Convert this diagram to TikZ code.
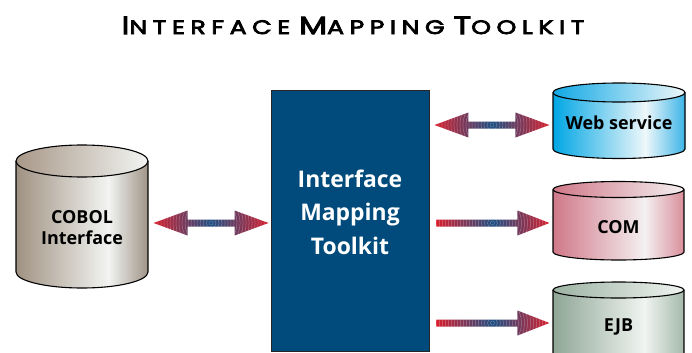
\documentclass[tikz,border=0pt]{standalone}
\usepackage{fontspec}
\setmainfont{Open Sans}
\newfontfamily\titlefont[LetterSpace=28.5,FakeStretch=1.3,FakeBold=4]{Poppins}
\usetikzlibrary{calc}
\definecolor{boxblue}{HTML}{004B7C}
\definecolor{arrred}{HTML}{D8202E}
\definecolor{arrblue}{HTML}{1F4F82}
\definecolor{cobA}{HTML}{A09282}
\definecolor{cobL}{HTML}{F2F4F2}
\definecolor{cobR}{HTML}{A09488}
\definecolor{cobT}{HTML}{A89888}
\definecolor{webA}{HTML}{00A6E4}
\definecolor{webL}{HTML}{EEF7FA}
\definecolor{webR}{HTML}{3CB4E6}
\definecolor{webT}{HTML}{10A8E4}
\definecolor{comA}{HTML}{D07888}
\definecolor{comL}{HTML}{F4F0F1}
\definecolor{comR}{HTML}{D98E9A}
\definecolor{comT}{HTML}{D07888}
\definecolor{ejbA}{HTML}{8FA696}
\definecolor{ejbL}{HTML}{F0F4F1}
\definecolor{ejbR}{HTML}{A4B8AA}
\definecolor{ejbT}{HTML}{9CB2A2}
\newcommand{\tsc}[2]{{\fontsize{25}{25}\selectfont #1}{\fontsize{19.5}{19.5}\selectfont #2}}
% xl, xr, top y, bottom y, ry, left, light, right, top-left
\newcommand{\dbcylinder}[9]{%
  \pgfmathsetmacro\cylcx{(#1+#2)/2}%
  \pgfmathsetmacro\cylrx{(#2-#1)/2}%
  \pgfmathsetmacro\cylxm{#1+0.7*(#2-#1)}%
  \begin{scope}
    \clip ({#1},{#3}) -- ({#1},{#4}) arc[start angle=180,end angle=360,x radius=\cylrx,y radius=#5] -- ({#2},{#3}) -- cycle;
    \shade[left color=#6,right color=#7] ({#1},{#4-#5-2}) rectangle (\cylxm,{#3});
    \shade[left color=#7,right color=#8] (\cylxm,{#4-#5-2}) rectangle ({#2},{#3});
  \end{scope}
  \draw[cylline] ({#1},{#3}) -- ({#1},{#4}) arc[start angle=180,end angle=360,x radius=\cylrx,y radius=#5] -- ({#2},{#3});
  \shade[left color=#9,right color=#7] (\cylcx,{#3}) ellipse[x radius=\cylrx,y radius=#5];
  \draw[cylline] (\cylcx,{#3}) ellipse[x radius=\cylrx,y radius=#5];
}
\tikzset{
  cylline/.style={draw=black,line width=1.1bp},
  cyllabel/.style={font=\fontsize{18}{21}\selectfont\bfseries,text=black,align=center,inner sep=0pt},
  imtbox/.style={fill=boxblue,draw=black!85,line width=0.9bp,minimum width=158bp,minimum height=261bp,inner sep=0pt},
  imtlabel/.style={font=\fontsize{23}{33.5}\selectfont\bfseries,text=white,align=center,inner sep=0pt},
  arrowshade/.style={left color=arrred,right color=arrred,middle color=arrblue},
  ring/.style={draw=white,line width=0.5bp,opacity=0.3},
  dblarrow/.pic={
    \shade[arrowshade] (0,0) -- (34,12.5) -- (34,3.5) -- (81,3.5) -- (81,12.5) -- (115,0) -- (81,-12.5) -- (81,-3.5) -- (34,-3.5) -- (34,-12.5) -- cycle;
    \begin{scope}
      \clip (0,0) -- (34,12.5) -- (34,3.5) -- (81,3.5) -- (81,12.5) -- (115,0) -- (81,-12.5) -- (81,-3.5) -- (34,-3.5) -- (34,-12.5) -- cycle;
      \foreach \r in {2,5,...,70} \draw[ring] (57.5,0) circle[radius=\r];
    \end{scope}
    \fill[arrblue] (57.5,0) circle[radius=1.6];
  },
  sglarrow/.pic={
    \shade[arrowshade] (0,3.5) -- (81,3.5) -- (81,12.5) -- (113,0) -- (81,-12.5) -- (81,-3.5) -- (0,-3.5) -- cycle;
    \begin{scope}
      \clip (0,3.5) -- (81,3.5) -- (81,12.5) -- (113,0) -- (81,-12.5) -- (81,-3.5) -- (0,-3.5) -- cycle;
      \foreach \r in {2,5,...,70} \draw[ring] (56,0) circle[radius=\r];
    \end{scope}
    \fill[arrblue] (56,0) circle[radius=1.6];
  }
}
\begin{document}
\begin{tikzpicture}[x=1bp,y=1bp]
\useasboundingbox (0,0) rectangle (692,352);
\clip (0,0) rectangle (692,352);
\fill[white] (0,0) rectangle (692,352);
% title
\node[anchor=base,inner sep=0pt] (title) at (353,318) {\titlefont \tsc{I}{NTERFACE}\hspace{9bp}\tsc{M}{APPING}\hspace{9bp}\tsc{T}{OOLKIT}};
% central box
\node[imtbox] (imt) at (350,131.5) {};
\node[imtlabel] (imttext) at (350,140) {Interface\\Mapping\\Toolkit};
% cylinders
\dbcylinder{16}{148}{191}{80}{16}{cobA}{cobL}{cobR}{cobT}
\node[cyllabel] (cobol) at (82,124.5) {COBOL\\Interface};
\dbcylinder{553}{685}{259.5}{203}{9.5}{webA}{webL}{webR}{webT}
\node[cyllabel] (web) at (619,229) {Web service};
\dbcylinder{553}{684}{162.5}{100}{8}{comA}{comL}{comR}{comT}
\node[cyllabel] (com) at (618.5,125) {COM};
\dbcylinder{553}{684}{62}{-20}{8}{ejbA}{ejbL}{ejbR}{ejbT}
\node[cyllabel] (ejb) at (618.5,25) {EJB};
% arrows
\coordinate (a1) at ($(imt.east)+(5,0)$);
\coordinate (webarr) at (a1 |- 0,227);
\coordinate (cobarr) at ($(imt.west)+(-117,0)$);
\coordinate (cobarrs) at (cobarr |- 0,129);
\coordinate (comarr) at ($(imt.east)+(7,0)$);
\coordinate (comarrs) at (comarr |- 0,129);
\coordinate (ejbarrs) at (comarr |- 0,29);
\pic at (webarr) {dblarrow};
\pic at (cobarrs) {dblarrow};
\pic at (comarrs) {sglarrow};
\pic at (ejbarrs) {sglarrow};
\end{tikzpicture}
\end{document}
